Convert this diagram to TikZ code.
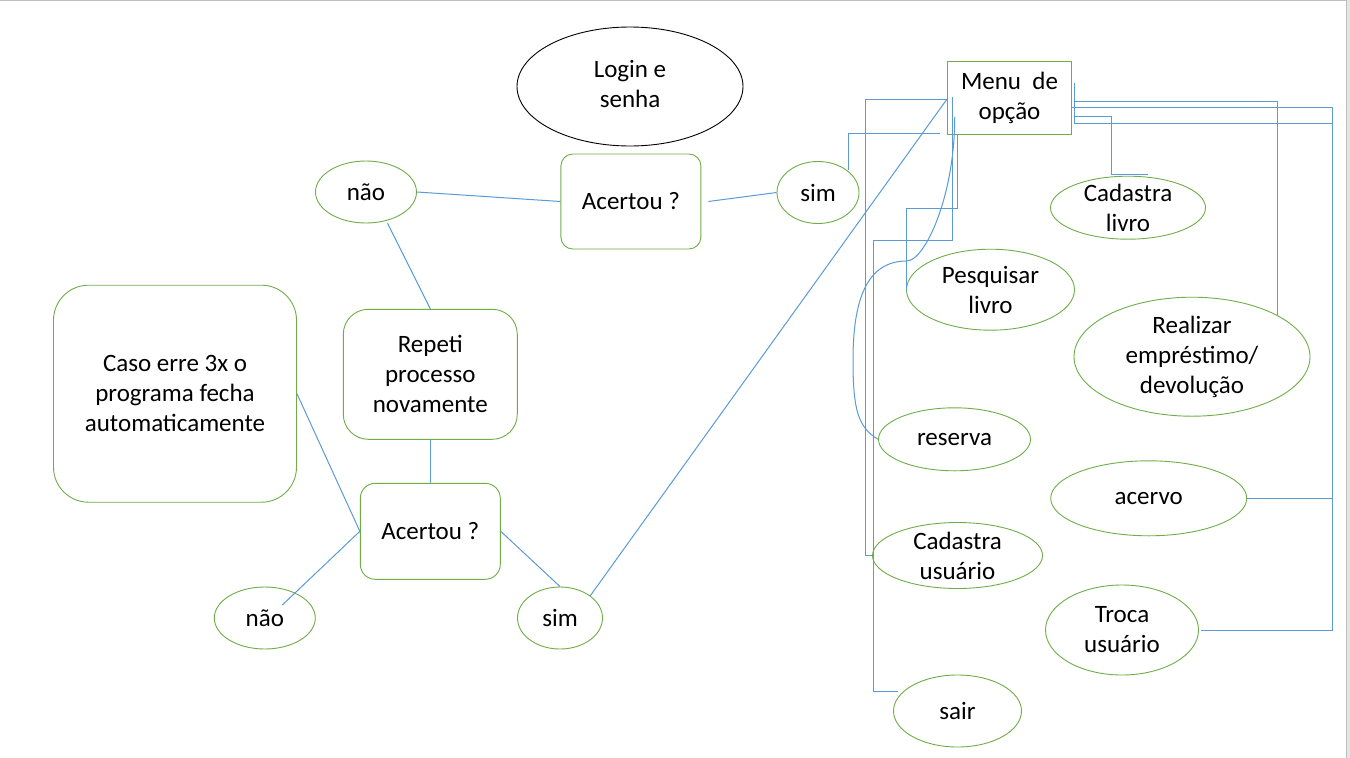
\documentclass[tikz,border=0pt]{standalone}
\usepackage{fontspec}
\setmainfont{Carlito}
\usetikzlibrary{shapes.geometric,calc}
\definecolor{lnblue}{HTML}{5B9BD5}
\definecolor{okgreen}{HTML}{70AD47}
\begin{document}
\begin{tikzpicture}[x=1pt,y=-1pt,
  every node/.style={font=\fontsize{25}{30}\selectfont, align=center, inner sep=0pt},
  oval/.style={ellipse, draw=okgreen, line width=0.9pt},
  rbox/.style={rectangle, draw=okgreen, line width=0.9pt, rounded corners=#1},
  link/.style={draw=lnblue, line width=1pt}]
\useasboundingbox (0,0) rectangle (1350,758);
\fill[white] (0,0) rectangle (1350,758);
\fill[black!10] (1346,0) rectangle (1350,758);
\draw[black!25, line width=1.5pt] (0,0.5) -- (1347,0.5);
\draw[black!25, line width=1.5pt] (1346.5,0) -- (1346.5,758);

% login
\node[ellipse, draw=black, line width=0.9pt, minimum width=226, minimum height=119] (login) at (630,86.5) {};
\node (login-t) at (630,84) {Login e\\senha};

% top row
\node[rbox=12pt, minimum width=140, minimum height=95] (ac1) at (630.9,201.5) {Acertou ?};
\node[oval, minimum width=101, minimum height=62] (nao1) at (366,192) {};
\node (nao1-t) at (nao1) {não};
\node[oval, minimum width=82, minimum height=62] (sim1) at (818,192.5) {};
\node (sim1-t) at (sim1) {sim};

% left column
\node[rbox=35pt, minimum width=243, minimum height=217] (caso) at (175,393.7) {Caso erre 3x o\\programa fecha\\automaticamente};
\node[rbox=25pt, minimum width=174, minimum height=130] (rep) at (430.3,374.3) {Repeti\\processo\\novamente};
\node[rbox=15pt, minimum width=140, minimum height=96] (ac2) at (430.3,531.3) {Acertou ?};
\node[oval, minimum width=101, minimum height=62] (nao2) at (264.8,618) {};
\node (nao2-t) at (nao2) {não};
\node[oval, minimum width=85, minimum height=62] (sim2) at (560,618) {};
\node (sim2-t) at (sim2) {sim};

% menu
\node[rectangle, draw=okgreen, line width=0.9pt, minimum width=124, minimum height=73] (menu) at (1009.5,97.8) {Menu\ \ de\\opção};

% options
\node[oval, minimum width=155, minimum height=63] (cl) at (1128,207.7) {};
\node (cl-t) at (cl) {Cadastra\\livro};
\node[oval, minimum width=168, minimum height=81] (pl) at (990.5,289.7) {};
\node (pl-t) at (pl) {Pesquisar\\livro};
\node[oval, minimum width=236, minimum height=119] (re) at (1192,356.7) {};
\node (re-t) at (re) {Realizar\\empréstimo/\\devolução};
\node[oval, minimum width=152, minimum height=63] (res) at (954.5,439.3) {};
\node (res-t) at (res) {reserva};
\node[oval, minimum width=196, minimum height=75] (acv) at (1148.7,498.3) {};
\node (acv-t) at (acv) {acervo};
\node[oval, minimum width=170, minimum height=66] (cu) at (957.5,555.5) {};
\node (cu-t) at (cu) {Cadastra\\usuário};
\node[oval, minimum width=153, minimum height=90] (tu) at (1122,630) {};
\node (tu-t) at (tu) {Troca\\usuário};
\node[oval, minimum width=128, minimum height=72] (sair) at (957.5,711) {};
\node (sair-t) at (sair) {sair};

% connectors left
\draw[link] (nao1.east) -- (ac1.west);
\draw[link] ($(ac1.east)+(7,0)$) -- (sim1.west);
\draw[link] ($(nao1.center)+(21.5,31.3)$) -- (rep.north);
\draw[link] (rep.south) -- (ac2.north);
\draw[link] (caso.east) -- (ac2.west);
\draw[link] (ac2.west) -- ($(nao2.center)+(17.5,-13)$);
\draw[link] (ac2.east) -- (sim2.north);
\draw[link] ($(sim2.center)+(30.1,-22)$) -- ($(menu.west)+(0,1.2)$);
\draw[link] ($(sim1.center)+(30.2,-22.5)$) |- ($(menu.south west)+(-6.6,-1)$);

% connectors menu left side
\draw[link] ($(menu.west)+(0,1.2)$) -- ++(-81.3,0) |- (cu.west);
\draw[link] ($(menu.west)+(5.4,-1.1)$) -- ++(0,144) -- ++(-79.4,0) |- ($(sair.center)+(-59.5,-20)$);
\draw[link] ($(menu.south)+(-52.2,-1)$) -- ++(0,75) -| (pl.west);
\draw[link] ($(menu.west)+(7.7,19)$) .. controls +(0,80) and +(18,0) .. (906.7,261)
  .. controls +(-40,0) and +(0,-60) .. (853,360)
  .. controls +(0,50) and +(-20,-12) .. (res.west);

% connectors menu right side
\draw[link] ($(menu.east)+(2.6,-15.1)$) -- ++(0,19) -| (re.26.5);
\draw[link] ($(menu.east)+(0,9.5)$) -- ++(260.3,0) |- ($(tu.east)+(2.5,0)$);
\draw[link] ($(menu.east)+(2.6,3.9)$) -- ++(0,15) -- ++(37.4,0) |- ($(cl.north)+(20,-1.7)$);
\draw[link] ($(menu.east)+(2.6,3.9)$) -- ++(0,21.6) -- ++(258,0) |- (acv.east);
\end{tikzpicture}
\end{document}
